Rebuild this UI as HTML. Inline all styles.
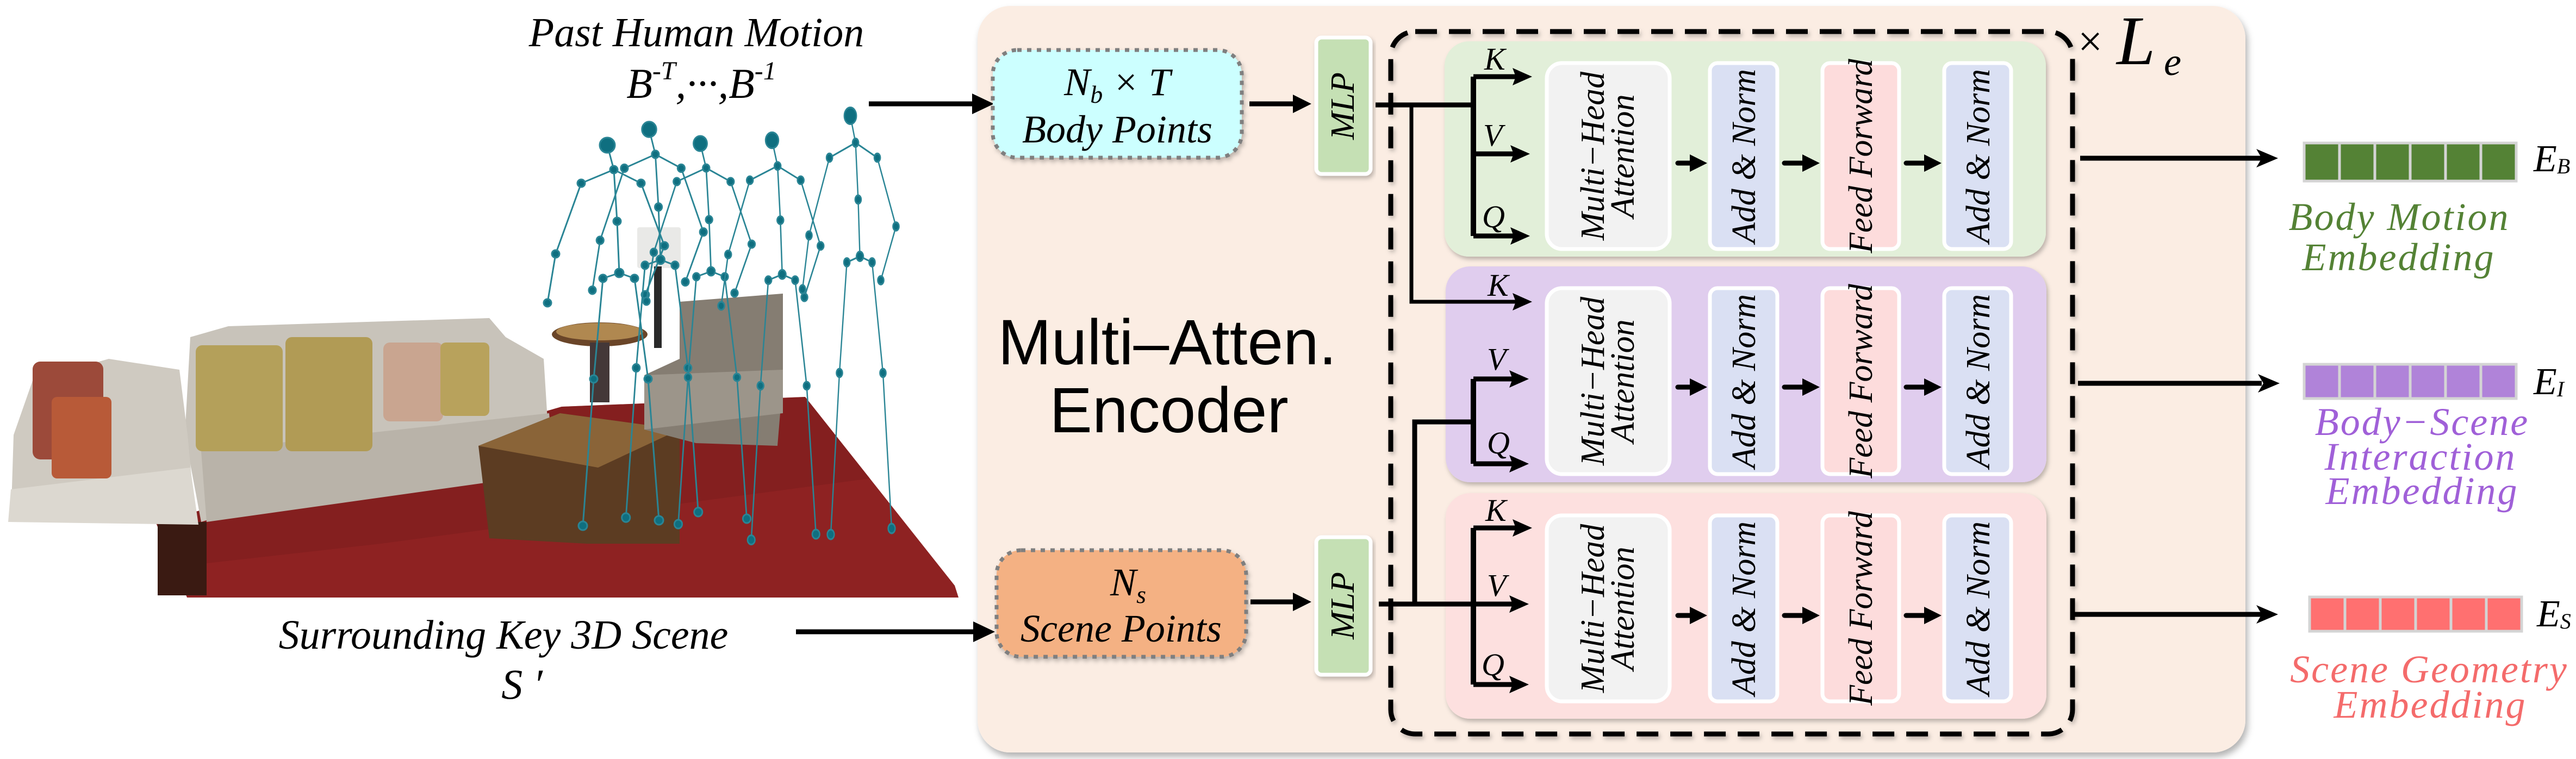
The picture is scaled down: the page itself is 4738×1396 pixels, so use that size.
<!DOCTYPE html>
<html><head><meta charset="utf-8"><style>
html,body{margin:0;padding:0;background:#fff;}
svg{display:block;}
.it{font-family:"Liberation Serif",serif;font-style:italic;}
.sans{font-family:"Liberation Sans Narrow","Liberation Sans",sans-serif;}
</style></head><body>
<svg width="4738" height="1396" viewBox="0 0 4738 1396" xmlns="http://www.w3.org/2000/svg">
<defs>
<filter id="sh" x="-5%" y="-5%" width="110%" height="115%"><feDropShadow dx="4" dy="8" stdDeviation="6" flood-color="#000" flood-opacity="0.3"/></filter>
<filter id="sh2" x="-10%" y="-10%" width="120%" height="130%"><feDropShadow dx="3" dy="5" stdDeviation="4" flood-color="#000" flood-opacity="0.25"/></filter>
<g id="skel" fill="#0f6f80" stroke="#2a8595" stroke-width="3">
<path fill="none" d="M0 0 L12 45 L-48 70 L-95 200 L-110 290 M12 45 L62 70 L105 185 L70 275 M12 45 L18 140 L22 235 L-8 245 L-25 430 L-45 700 M22 235 L50 245 L75 430 L95 690"/>
<circle cx="0" cy="0" r="14"/><circle cx="12" cy="45" r="7"/><circle cx="-48" cy="70" r="7"/><circle cx="62" cy="70" r="7"/>
<circle cx="-95" cy="200" r="7"/><circle cx="105" cy="185" r="7"/><circle cx="-110" cy="290" r="7"/><circle cx="70" cy="275" r="7"/>
<circle cx="18" cy="140" r="7"/><circle cx="22" cy="235" r="8"/><circle cx="-8" cy="245" r="7"/><circle cx="50" cy="245" r="7"/>
<circle cx="-25" cy="430" r="7"/><circle cx="75" cy="430" r="7"/><circle cx="-45" cy="700" r="8"/><circle cx="95" cy="690" r="8"/>
</g>
</defs>

<!-- ===== Scene ===== -->
<polygon points="287,962 1033,748 1481,730 1756,1077 1763,1099 344,1099" fill="#8e2222"/>
<polygon points="287,962 1033,748 1481,730 1600,880 700,1000 344,1040" fill="#7a1c1c" opacity="0.5"/>
<rect x="290" y="960" width="90" height="135" fill="#3a1a12"/>
<path d="M350 620 L420 600 L900 585 L930 620 L1000 660 L1010 820 L560 900 L370 960 L340 800 Z" fill="#c8c3ba"/>
<path d="M370 830 L1010 760 L1020 870 L380 960 Z" fill="#b9b3a9"/>
<path d="M25 800 L60 700 L200 660 L330 680 L345 800 L360 960 L20 960 Z" fill="#cfcac1"/>
<path d="M20 900 L350 860 L365 965 L15 960 Z" fill="#dcd8d0"/>
<rect x="360" y="635" width="160" height="195" rx="12" fill="#b4a05a"/>
<rect x="525" y="620" width="160" height="210" rx="12" fill="#b19b55"/>
<rect x="705" y="630" width="110" height="145" rx="12" fill="#c9a590"/>
<rect x="810" y="630" width="90" height="135" rx="10" fill="#b8a25c"/>
<rect x="60" y="665" width="130" height="180" rx="14" fill="#9c4a3a"/>
<rect x="95" y="730" width="110" height="150" rx="10" fill="#b85a38"/>
<polygon points="880,820 1030,760 1250,790 1250,1000 1080,1000 900,990" fill="#5c3c22"/>
<polygon points="880,820 1030,760 1250,790 1100,860" fill="#8a6438"/>
<ellipse cx="1103" cy="615" rx="88" ry="22" fill="#6a4528"/>
<ellipse cx="1103" cy="610" rx="80" ry="16" fill="#b08850"/>
<rect x="1085" y="630" width="36" height="110" fill="#443838"/>
<rect x="1172" y="418" width="80" height="75" rx="4" fill="#e9e9e7"/>
<rect x="1203" y="490" width="14" height="150" fill="#2a2a2a"/>
<path d="M1250 555 L1440 540 L1440 700 L1430 820 L1280 815 L1185 790 L1185 690 L1250 660 Z" fill="#857d72"/>
<path d="M1185 690 L1440 680 L1440 760 L1185 790 Z" fill="#9c958a"/>
<use href="#skel" transform="translate(1117,267)"/>
<use href="#skel" transform="translate(1194,238) scale(0.95,1.02)"/>
<use href="#skel" transform="translate(1288,264) scale(0.9,1)"/>
<use href="#skel" transform="translate(1420,258) scale(0.85,1.05)"/>
<use href="#skel" transform="translate(1564,213) scale(0.8,1.1)"/>

<text x="1281" y="85" class="it" font-size="76" text-anchor="middle">Past Human Motion</text>
<text x="1290" y="180" class="it" font-size="78" text-anchor="middle">B<tspan font-size="48" dy="-34">-T</tspan><tspan dy="34">,···,B</tspan><tspan font-size="48" dy="-34">-1</tspan></text>
<text x="926" y="1193" class="it" font-size="76" text-anchor="middle">Surrounding Key 3D Scene</text>
<text x="960" y="1285" class="it" font-size="78" text-anchor="middle">S ′</text>

<!-- ===== main panel ===== -->
<rect x="1798" y="11" width="2332" height="1373" rx="60" fill="#fbede3" filter="url(#sh)"/>

<line x1="1598" y1="191" x2="1790" y2="191" stroke="#000" stroke-width="9"/>
<polygon points="1828,191 1788,172 1788,210" fill="#000"/>
<line x1="1464" y1="1162" x2="1790" y2="1162" stroke="#000" stroke-width="9"/>
<polygon points="1830,1162 1790,1143 1790,1181" fill="#000"/>

<rect x="1826" y="92" width="458" height="198" rx="45" fill="#ccffff" stroke="#7f7f7f" stroke-width="7" stroke-dasharray="8 10" filter="url(#sh2)"/>
<text x="2055" y="175" class="it" font-size="72" text-anchor="middle">N<tspan font-size="46" dy="14">b</tspan><tspan dy="-14"> × T</tspan></text>
<text x="2055" y="262" class="it" font-size="72" text-anchor="middle">Body Points</text>
<rect x="1833" y="1012" width="459" height="196" rx="45" fill="#f4b183" stroke="#7f7f7f" stroke-width="7" stroke-dasharray="8 10" filter="url(#sh2)"/>
<text x="2075" y="1095" class="it" font-size="72" text-anchor="middle">N<tspan font-size="46" dy="14">s</tspan></text>
<text x="2062" y="1180" class="it" font-size="72" text-anchor="middle">Scene Points</text>

<line x1="2298" y1="191" x2="2380" y2="191" stroke="#000" stroke-width="9"/>
<polygon points="2412,191 2378,174 2378,208" fill="#000"/>
<line x1="2300" y1="1107" x2="2380" y2="1107" stroke="#000" stroke-width="9"/>
<polygon points="2412,1107 2378,1090 2378,1124" fill="#000"/>

<rect x="2421" y="69" width="100" height="251" rx="10" fill="#c5e0b4" stroke="#fff" stroke-width="7" filter="url(#sh2)"/>
<text transform="translate(2490,195) rotate(-90)" class="it" font-size="62" text-anchor="middle">MLP</text>
<rect x="2421" y="988" width="100" height="253" rx="10" fill="#c5e0b4" stroke="#fff" stroke-width="7" filter="url(#sh2)"/>
<text transform="translate(2490,1114) rotate(-90)" class="it" font-size="62" text-anchor="middle">MLP</text>

<text x="2147" y="670" class="sans" font-size="118" text-anchor="middle">Multi–Atten.</text>
<text x="2150" y="795" class="sans" font-size="118" text-anchor="middle">Encoder</text>

<rect x="2558" y="58" width="1254" height="1292" rx="45" fill="none" stroke="#000" stroke-width="9" stroke-dasharray="40 22" filter="url(#sh2)"/>
<text x="3822" y="103" font-family="Liberation Serif,serif" font-size="80">×</text>
<text x="3893" y="118" class="it" font-size="128">L</text>
<text x="3980" y="138" class="it" font-size="72">e</text>

<rect x="2657" y="76" width="1106" height="396" rx="45" fill="#e2efd9" filter="url(#sh2)"/>
<rect x="2659" y="490" width="1105" height="397" rx="45" fill="#e0cdee" filter="url(#sh2)"/>
<rect x="2659" y="907" width="1105" height="415" rx="45" fill="#fde0df" filter="url(#sh2)"/>

<g stroke="#fff" stroke-width="7">
<rect x="2845" y="116" width="226" height="342" rx="28" fill="#f2f2f2"/>
<rect x="3145" y="116" width="124" height="342" rx="14" fill="#dae0f3"/>
<rect x="3352" y="116" width="141" height="342" rx="14" fill="#fddcdc"/>
<rect x="3576" y="116" width="123" height="342" rx="14" fill="#dae0f3"/>
<rect x="2845" y="530" width="226" height="342" rx="28" fill="#f2f2f2"/>
<rect x="3145" y="530" width="124" height="342" rx="14" fill="#dae0f3"/>
<rect x="3352" y="530" width="141" height="342" rx="14" fill="#fddcdc"/>
<rect x="3576" y="530" width="123" height="342" rx="14" fill="#dae0f3"/>
<rect x="2845" y="948" width="226" height="342" rx="28" fill="#f2f2f2"/>
<rect x="3145" y="948" width="124" height="342" rx="14" fill="#dae0f3"/>
<rect x="3352" y="948" width="141" height="342" rx="14" fill="#fddcdc"/>
<rect x="3576" y="948" width="123" height="342" rx="14" fill="#dae0f3"/>
</g>
<g class="it" font-size="62" text-anchor="middle">
<text transform="translate(2950,287) rotate(-90)">Multi−Head</text>
<text transform="translate(3005,287) rotate(-90)">Attention</text>
<text transform="translate(3228,287) rotate(-90)">Add &amp; Norm</text>
<text transform="translate(3443,287) rotate(-90)">Feed Forward</text>
<text transform="translate(3659,287) rotate(-90)">Add &amp; Norm</text>
<text transform="translate(2950,701) rotate(-90)">Multi−Head</text>
<text transform="translate(3005,701) rotate(-90)">Attention</text>
<text transform="translate(3228,701) rotate(-90)">Add &amp; Norm</text>
<text transform="translate(3443,701) rotate(-90)">Feed Forward</text>
<text transform="translate(3659,701) rotate(-90)">Add &amp; Norm</text>
<text transform="translate(2950,1119) rotate(-90)">Multi−Head</text>
<text transform="translate(3005,1119) rotate(-90)">Attention</text>
<text transform="translate(3228,1119) rotate(-90)">Add &amp; Norm</text>
<text transform="translate(3443,1119) rotate(-90)">Feed Forward</text>
<text transform="translate(3659,1119) rotate(-90)">Add &amp; Norm</text>
</g>

<g stroke="#000" stroke-width="9" stroke-linecap="round">
<line x1="3086" y1="300" x2="3112" y2="300"/><line x1="3282" y1="300" x2="3320" y2="300"/><line x1="3506" y1="300" x2="3544" y2="300"/>
<line x1="3086" y1="712" x2="3112" y2="712"/><line x1="3282" y1="712" x2="3320" y2="712"/><line x1="3506" y1="712" x2="3544" y2="712"/>
<line x1="3086" y1="1132" x2="3112" y2="1132"/><line x1="3282" y1="1132" x2="3320" y2="1132"/><line x1="3506" y1="1132" x2="3544" y2="1132"/>
</g>
<g fill="#000">
<polygon points="3140,300 3108,284 3108,316"/><polygon points="3347,300 3315,284 3315,316"/><polygon points="3571,300 3539,284 3539,316"/>
<polygon points="3140,712 3108,696 3108,728"/><polygon points="3347,712 3315,696 3315,728"/><polygon points="3571,712 3539,696 3539,728"/>
<polygon points="3140,1132 3108,1116 3108,1148"/><polygon points="3347,1132 3315,1116 3315,1148"/><polygon points="3571,1132 3539,1116 3539,1148"/>
</g>

<g stroke="#000" fill="none">
<path d="M2530 193 L2710 193" stroke-width="9"/>
<path d="M2710 141 L2710 434" stroke-width="10"/>
<path d="M2710 141 L2790 141 M2710 283 L2790 283 M2710 434 L2790 434" stroke-width="9"/>
<path d="M2596 193 L2596 555 L2790 555" stroke-width="7"/>
<path d="M2710 697 L2710 853" stroke-width="10"/>
<path d="M2710 697 L2790 697 M2710 853 L2790 853" stroke-width="9"/>
<path d="M2602 1111 L2602 776 L2710 776" stroke-width="9"/>
<path d="M2536 1111 L2790 1111" stroke-width="9"/>
<path d="M2710 971 L2710 1259" stroke-width="10"/>
<path d="M2710 971 L2790 971 M2710 1259 L2790 1259" stroke-width="9"/>
</g>
<g fill="#000">
<polygon points="2818,141 2782,125 2788,141 2782,157"/>
<polygon points="2814,283 2778,267 2784,283 2778,299"/>
<polygon points="2814,434 2778,418 2784,434 2778,450"/>
<polygon points="2818,555 2782,539 2788,555 2782,571"/>
<polygon points="2812,697 2776,681 2782,697 2776,713"/>
<polygon points="2812,853 2776,837 2782,853 2776,869"/>
<polygon points="2818,971 2782,955 2788,971 2782,987"/>
<polygon points="2812,1111 2776,1095 2782,1111 2776,1127"/>
<polygon points="2812,1259 2776,1243 2782,1259 2776,1275"/>
</g>
<g class="it" font-size="58">
<text x="2730" y="128">K</text><text x="2728" y="268">V</text><text x="2726" y="418">Q</text>
<text x="2736" y="544">K</text><text x="2735" y="680">V</text><text x="2735" y="834">Q</text>
<text x="2732" y="958">K</text><text x="2735" y="1096">V</text><text x="2725" y="1242">Q</text>
</g>

<g stroke="#000" stroke-width="9">
<line x1="3826" y1="291" x2="4160" y2="291"/>
<line x1="3822" y1="705" x2="4160" y2="705"/>
<line x1="3812" y1="1130" x2="4160" y2="1130"/>
</g>
<g fill="#000">
<polygon points="4190,291 4150,274 4160,291 4150,308"/>
<polygon points="4193,705 4153,688 4163,705 4153,722"/>
<polygon points="4190,1130 4150,1113 4160,1130 4150,1147"/>
</g>

<g stroke="#d4d4d4" stroke-width="5">
<g fill="#548235">
<rect x="4238" y="263" width="65" height="70"/><rect x="4303" y="263" width="65" height="70"/><rect x="4368" y="263" width="65" height="70"/><rect x="4433" y="263" width="65" height="70"/><rect x="4498" y="263" width="65" height="70"/><rect x="4563" y="263" width="65" height="70"/>
</g>
<g fill="#b083d9">
<rect x="4238" y="670" width="65" height="63"/><rect x="4303" y="670" width="65" height="63"/><rect x="4368" y="670" width="65" height="63"/><rect x="4433" y="670" width="65" height="63"/><rect x="4498" y="670" width="65" height="63"/><rect x="4563" y="670" width="65" height="63"/>
</g>
<g fill="#ff7070">
<rect x="4248" y="1098" width="65" height="63"/><rect x="4313" y="1098" width="65" height="63"/><rect x="4378" y="1098" width="65" height="63"/><rect x="4443" y="1098" width="65" height="63"/><rect x="4508" y="1098" width="65" height="63"/><rect x="4573" y="1098" width="65" height="63"/>
</g>
</g>
<text x="4660" y="315" class="it" font-size="70">E<tspan font-size="40" dy="4">B</tspan></text>
<text x="4660" y="725" class="it" font-size="70">E<tspan font-size="40" dy="4">I</tspan></text>
<text x="4666" y="1152" class="it" font-size="70">E<tspan font-size="40" dy="4">S</tspan></text>

<g class="it" font-size="72" text-anchor="middle">
<text x="4413" y="423" fill="#548235" letter-spacing="3">Body Motion</text>
<text x="4412" y="497" fill="#548235" letter-spacing="3">Embedding</text>
<text x="4455" y="800" fill="#a060d8" letter-spacing="3">Body−Scene</text>
<text x="4452" y="864" fill="#a060d8" letter-spacing="3">Interaction</text>
<text x="4455" y="927" fill="#a060d8" letter-spacing="3">Embedding</text>
<text x="4468" y="1255" fill="#f46b6b" letter-spacing="3">Scene Geometry</text>
<text x="4470" y="1320" fill="#f46b6b" letter-spacing="3">Embedding</text>
</g>
</svg>
</body></html>
